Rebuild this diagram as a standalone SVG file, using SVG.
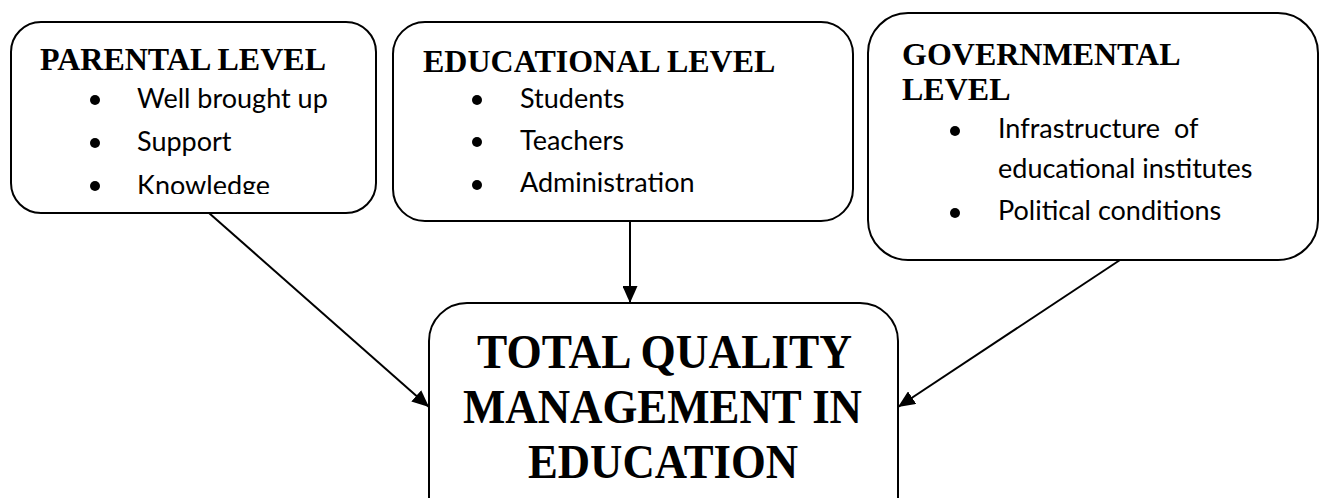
<svg xmlns="http://www.w3.org/2000/svg" width="1322" height="498" viewBox="0 0 1322 498">
<style>
.box{fill:#fff;stroke:#000;stroke-width:2}
.title{font-family:"Liberation Serif","Times New Roman",serif;font-weight:bold;font-size:32px;fill:#000}
.big{font-family:"Liberation Serif","Times New Roman",serif;font-weight:bold;font-size:48px;fill:#000}
.item{font-family:Lato,"Noto Sans",sans-serif;font-size:27px;fill:#000}
.conn{stroke:#000;stroke-width:2;fill:none}
</style>
<defs>
<marker id="ah" markerWidth="17" markerHeight="15" refX="17" refY="7.5" orient="auto" markerUnits="userSpaceOnUse">
<path d="M0,0 L17,7.5 L0,15 Z" fill="#000"/>
</marker>
<clipPath id="clipP"><rect x="0" y="0" width="400" height="194"/></clipPath>
</defs>
<rect width="1322" height="498" fill="#fff"/>
<g id="parental">
<rect class="box" x="11" y="22" width="365" height="191" rx="30"/>
<text class="title" x="40" y="70">PARENTAL LEVEL</text>
<g clip-path="url(#clipP)">
<circle cx="95" cy="100" r="5"/>
<text class="item" x="137" y="108">Well brought up</text>
<circle cx="95" cy="143" r="5"/>
<text class="item" x="137" y="151">Support</text>
<circle cx="95" cy="186" r="5"/>
<text class="item" x="137" y="195">Knowledge</text>
</g>
</g>
<g id="educational">
<rect class="box" x="393" y="22" width="460" height="199" rx="32"/>
<text class="title" x="423" y="72">EDUCATIONAL LEVEL</text>
<circle cx="477" cy="100" r="5"/>
<text class="item" x="520" y="108">Students</text>
<circle cx="477" cy="142" r="5"/>
<text class="item" x="520" y="150">Teachers</text>
<circle cx="477" cy="185" r="5"/>
<text class="item" x="520" y="192">Administration</text>
</g>
<g id="governmental">
<rect class="box" x="868" y="13" width="450" height="247" rx="40"/>
<text class="title" x="902" y="65">GOVERNMENTAL</text>
<text class="title" x="902" y="100">LEVEL</text>
<circle cx="955" cy="131" r="5"/>
<text class="item" x="998" y="138" xml:space="preserve">Infrastructure  of</text>
<text class="item" x="998" y="178">educational institutes</text>
<circle cx="955" cy="213" r="5"/>
<text class="item" x="998" y="220">Political conditions</text>
</g>
<g id="tqm">
<rect class="box" x="429" y="303" width="469" height="240" rx="38"/>
<text class="big" x="477" y="368" textLength="375" lengthAdjust="spacingAndGlyphs">TOTAL QUALITY</text>
<text class="big" x="463" y="423" textLength="399" lengthAdjust="spacingAndGlyphs">MANAGEMENT IN</text>
<text class="big" x="528" y="478" textLength="270" lengthAdjust="spacingAndGlyphs">EDUCATION</text>
</g>
<g id="connectors">
<line class="conn" x1="209" y1="213" x2="429" y2="407" marker-end="url(#ah)"/>
<line class="conn" x1="630" y1="221" x2="630" y2="303" marker-end="url(#ah)"/>
<line class="conn" x1="1120" y1="260" x2="898" y2="407" marker-end="url(#ah)"/>
</g>
</svg>
